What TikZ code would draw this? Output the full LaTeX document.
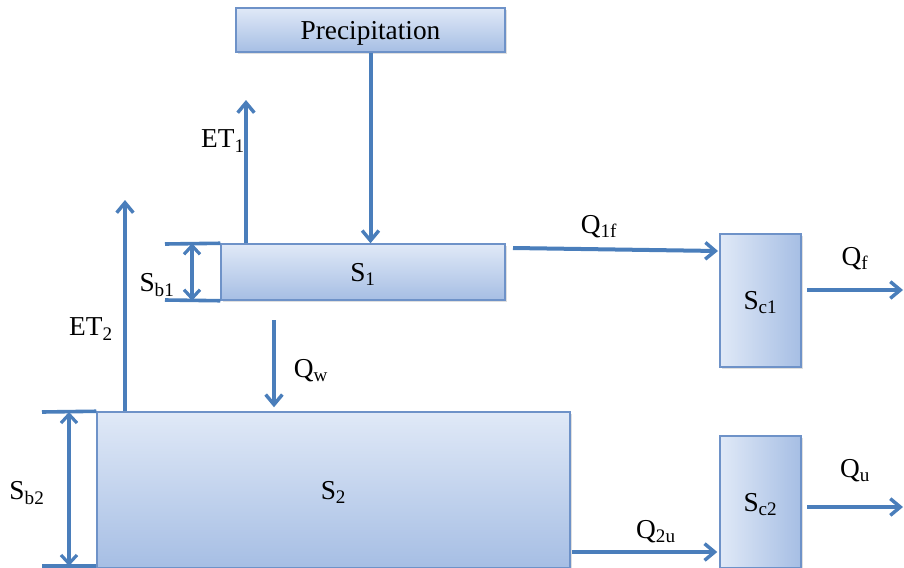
\documentclass[tikz,border=0pt]{standalone}
\usepackage{fontspec}
\setmainfont{Liberation Serif}
\usepackage{tikz}
\usetikzlibrary{calc, arrows.meta, shadows}
\definecolor{flowblue}{RGB}{74, 126, 187}
\definecolor{boxedge}{RGB}{110, 146, 200}
\definecolor{boxlight}{RGB}{224, 233, 247}
\definecolor{boxdark}{RGB}{166, 190, 228}

\begin{document}
\begin{tikzpicture}[x=0.75pt, y=-0.75pt,
    font=\fontsize{20.5}{24}\selectfont,
    store/.style={draw=boxedge, line width=1.1pt, inner sep=0pt,
        text height=16pt, text depth=2pt,
        top color=boxlight, bottom color=boxdark,
        drop shadow={opacity=0.25, shadow xshift=1.2pt, shadow yshift=-1.2pt}},
    channel/.style={store, left color=boxlight, right color=boxdark},
    flow/.style={draw=flowblue, line width=3pt,
        -{Straight Barb[length=7.5pt, width=12.5pt, line width=2.6pt]}},
    dimline/.style={draw=flowblue, line width=2.7pt},
    dimarrow/.style={dimline,
        {Straight Barb[length=6.5pt, width=12pt, line width=2.4pt]}-{Straight Barb[length=6.5pt, width=12pt, line width=2.4pt]}}]
    \useasboundingbox (0,0) rectangle (904,568);

    % storages
    \node[store, minimum width=201.75pt, minimum height=33pt] (precip) at (370.5, 30) {Precipitation};
    \node[store, minimum width=213pt, minimum height=42pt] (s1) at (363, 272) {S\textsubscript{1}};
    \node[store, minimum width=354.75pt, minimum height=117pt] (s2) at (333.5, 490) {S\textsubscript{2}};
    \node[channel, minimum width=60.75pt, minimum height=99.75pt] (sc1) at (760.5, 300.5) {S\textsubscript{c1}};
    \node[channel, minimum width=60.75pt, minimum height=99pt] (sc2) at (760.5, 502) {S\textsubscript{c2}};

    % free ends
    \coordinate (et1top) at (246, 100);
    \coordinate (et2top) at (125, 200);
    \coordinate (qwtop) at (274, 320);
    \coordinate (q1fstart) at (513, 248);
    \coordinate (q1fend) at (718, 251);
    \coordinate (qfend) at (903, 290);
    \coordinate (quend) at (903, 507);
    \coordinate (q2ulevel) at (0, 552);

    % fluxes
    \draw[flow] (precip.south) -- (precip.south |- s1.north);
    \draw[flow] (et1top |- s1.north) -- (et1top);
    \draw[flow] (et2top |- s2.north) -- (et2top);
    \draw[flow] (qwtop) -- ($(qwtop |- s2.north)+(0,-4)$);
    \draw[flow] (q1fstart) -- (q1fend);
    \draw[flow, shorten <=4pt] (sc1.east |- qfend) -- (qfend);
    \draw[flow, shorten <=4pt] (sc2.east |- quend) -- (quend);
    \draw[flow, shorten <=1pt] (s2.east |- q2ulevel) -- ($(sc2.west |- q2ulevel)+(-2,0)$);

    % storage depths
    \coordinate (sb1top) at (165, 244);
    \coordinate (sb1bot) at (165, 300);
    \coordinate (sb1x) at (192, 0);
    \draw[dimline] (sb1top) -- (s1.north west);
    \draw[dimline] (sb1bot) -- (s1.south west);
    \draw[dimarrow] (sb1x |- s1.north) -- (sb1x |- s1.south);

    \coordinate (sb2top) at (42, 412);
    \coordinate (sb2bot) at (42, 566);
    \coordinate (sb2x) at (69, 0);
    \draw[dimline] (sb2top) -- (s2.north west);
    \draw[dimline] (sb2bot) -- (sb2bot -| s2.west);
    \draw[dimarrow] (sb2x |- sb2top) -- (sb2x |- sb2bot);

    % labels
    \node (et1lab) at (223, 141) {ET\textsubscript{1}};
    \node (et2lab) at (91, 329) {ET\textsubscript{2}};
    \node (sb1lab) at (157, 285) {S\textsubscript{b1}};
    \node (sb2lab) at (27, 493) {S\textsubscript{b2}};
    \node (qwlab) at (311, 371) {Q\textsubscript{w}};
    \node (q1flab) at (599, 227) {Q\textsubscript{1f}};
    \node (qflab) at (855, 259) {Q\textsubscript{f}};
    \node (qulab) at (855, 471) {Q\textsubscript{u}};
    \node (q2ulab) at (656, 532) {Q\textsubscript{2u}};
\end{tikzpicture}
\end{document}
